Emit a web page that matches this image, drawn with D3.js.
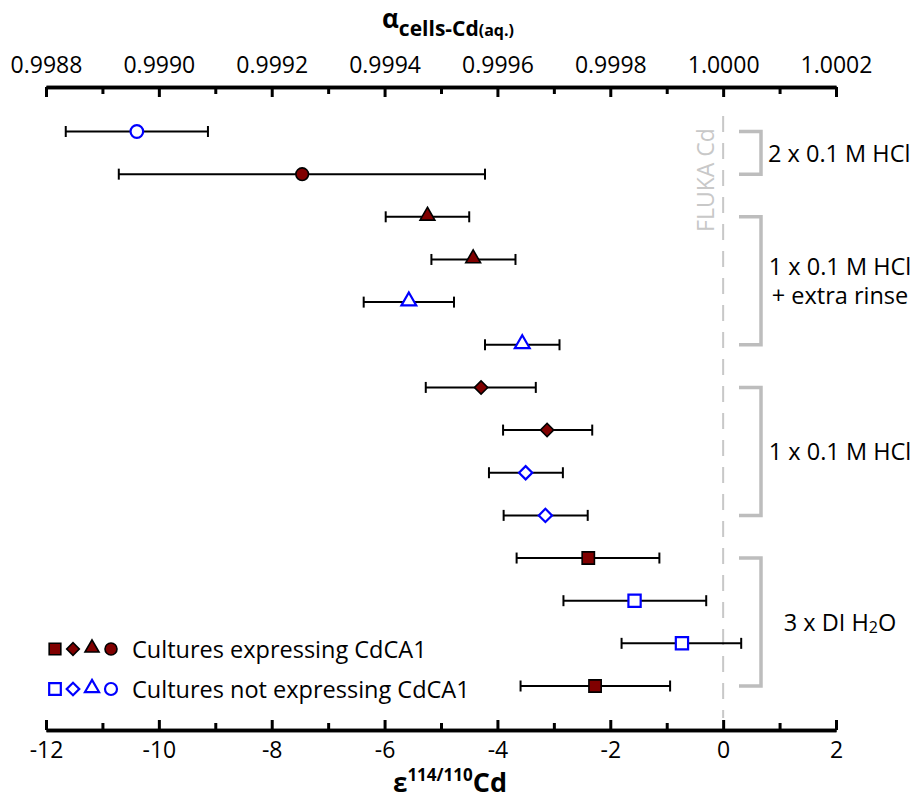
<!DOCTYPE html>
<html><head><meta charset="utf-8">
<script src="https://cdn.jsdelivr.net/npm/d3@7"></script>
<style>
html,body{margin:0;padding:0;background:#fff;}
svg{display:block;font-family:"Open Sans","Noto Sans",sans-serif;}
</style></head>
<body><svg id="chart" width="920" height="801"></svg>
<script>
// ---- data ----
const epsilon   = [-10.39, -7.46, -5.24, -4.43, -5.57, -3.56, -4.29, -3.12, -3.50, -3.15, -2.39, -1.57, -0.73, -2.27];
const errLow    = [-11.65, -10.71, -5.98, -5.17, -6.37, -4.22, -5.27, -3.90, -4.15, -3.89, -3.66, -2.83, -1.80, -3.59];
const errHigh   = [-9.13, -4.22, -4.50, -3.68, -4.77, -2.90, -3.32, -2.32, -2.84, -2.40, -1.13, -0.30, 0.32, -0.94];
const shapes    = ["circle","circle","triangle","triangle","triangle","triangle","diamond","diamond","diamond","diamond","square","square","square","square"];
const expressing= [false, true, true, true, false, false, true, true, false, false, true, false, false, true];
const epsTicks  = [-12,-10,-8,-6,-4,-2,0,2];
const alphaTicks= ["0.9988","0.9990","0.9992","0.9994","0.9996","0.9998","1.0000","1.0002"];
const groupLabels = [["2 x 0.1 M HCl"],["1 x 0.1 M HCl","+ extra rinse"],["1 x 0.1 M HCl"],["3 x DI H\u2082O"]];
const groupStart = [0, 2, 6, 10];
const groupEnd   = [1, 5, 9, 13];
const legendLabels = ["Cultures expressing CdCA1","Cultures not expressing CdCA1"];

const svg = d3.select("#chart");
const RED = "#800000", BLUE = "#0000ff", GRAY = "#bdbdbd";

const x = d3.scaleLinear().domain([-12, 2]).range([46, 836]);
const xa = d3.scaleLinear().domain([0.9988, 1.0002]).range([46, 836]);
const y = d3.scalePoint().domain(d3.range(epsilon.length)).range([131.5, 686]);
const yTop = 87, yBot = 730;

// reference dashed line at 0 (FLUKA Cd)
svg.append("line").attr("x1", x(0)).attr("x2", x(0)).attr("y1", 116).attr("y2", 718)
  .attr("stroke", "#c8c8c8").attr("stroke-width", 2).attr("stroke-dasharray", "16,11");
svg.append("text").attr("transform", `translate(${x(0)-18},180) rotate(-90)`)
  .attr("text-anchor", "middle").attr("dominant-baseline", "central")
  .attr("font-size", 23).attr("fill", "#c8c8c8").text("FLUKA Cd");

// axes
function styleAxis(g){
  g.select(".domain").attr("stroke", "#000").attr("stroke-width", 3.5);
  g.selectAll(".tick line").attr("stroke", "#000").attr("stroke-width", 3);
  g.selectAll(".tick text").attr("font-size", 23).attr("fill", "#000").attr("font-family", '"Open Sans",sans-serif');
}
const minorEps = d3.range(-11, 2, 2);
svg.append("g").attr("transform", `translate(0,${yBot})`)
  .call(d3.axisBottom(x).tickValues(minorEps).tickSize(-7).tickFormat("").tickSizeOuter(0))
  .call(styleAxis);
svg.append("g").attr("transform", `translate(0,${yBot})`)
  .call(d3.axisBottom(x).tickValues(epsTicks).tickSizeInner(-10).tickSizeOuter(0).tickPadding(12).tickFormat(d => d3.format("d")(d).replace("\u2212","-")))
  .call(styleAxis);
svg.append("g").attr("transform", `translate(0,${yTop})`)
  .call(d3.axisTop(xa).tickValues(d3.range(0, 7).map(i => 0.99890 + i*0.0002)).tickSize(-7).tickFormat("").tickSizeOuter(0))
  .call(styleAxis);
svg.append("g").attr("transform", `translate(0,${yTop})`)
  .call(d3.axisTop(xa).tickValues(alphaTicks.map(Number)).tickSizeInner(-10).tickSizeOuter(0).tickPadding(14).tickFormat((d, i) => alphaTicks[i]))
  .call(styleAxis);

// axis titles
const tt = svg.append("text").attr("x", 448).attr("y", 28).attr("text-anchor", "middle")
  .attr("font-weight", "bold").attr("fill", "#000");
tt.append("tspan").attr("font-size", 26).text("\u03b1");
tt.append("tspan").attr("font-size", 21).attr("dy", 8).text("cells-Cd");
tt.append("tspan").attr("font-size", 16).text("(aq.)");

const bt = svg.append("text").attr("x", 450).attr("y", 792).attr("text-anchor", "middle")
  .attr("font-weight", "bold").attr("fill", "#000");
bt.append("tspan").attr("font-size", 26).text("\u03b5");
bt.append("tspan").attr("font-size", 17).attr("dy", -11).text("114/110");
bt.append("tspan").attr("font-size", 27).attr("dy", 11).text("Cd");

// marker path generator
const symMap = {circle: d3.symbolCircle, square: d3.symbolSquare, triangle: d3.symbolTriangle, diamond: d3.symbolSquare};
const symSize = {circle: 125, square: 150, triangle: 95, diamond: 88};
function markerPath(shape, scale=1){
  return d3.symbol().type(symMap[shape]).size(symSize[shape]*scale*scale)();
}
function markerTransform(shape, cx, cy){
  if (shape === "triangle") return `translate(${cx},${cy-1})`;
  if (shape === "diamond") return `translate(${cx},${cy}) rotate(45)`;
  return `translate(${cx},${cy})`;
}
function styleMarker(sel, expr){
  sel.attr("fill", expr ? RED : "#fff").attr("stroke", expr ? "#000" : BLUE).attr("stroke-width", expr ? 1.6 : 2.2);
}

// error bars
const rows = d3.range(epsilon.length);
const eb = svg.append("g").selectAll("g").data(rows).join("g");
eb.append("line").attr("x1", i => x(errLow[i])).attr("x2", i => x(errHigh[i]))
  .attr("y1", i => y(i)).attr("y2", i => y(i)).attr("stroke", "#000").attr("stroke-width", 2);
eb.append("line").attr("x1", i => x(errLow[i])).attr("x2", i => x(errLow[i]))
  .attr("y1", i => y(i)-5.5).attr("y2", i => y(i)+5.5).attr("stroke", "#000").attr("stroke-width", 2);
eb.append("line").attr("x1", i => x(errHigh[i])).attr("x2", i => x(errHigh[i]))
  .attr("y1", i => y(i)-5.5).attr("y2", i => y(i)+5.5).attr("stroke", "#000").attr("stroke-width", 2);

// markers
svg.append("g").selectAll("path").data(rows).join("path")
  .attr("d", i => markerPath(shapes[i]))
  .attr("transform", i => markerTransform(shapes[i], x(epsilon[i]), y(i)))
  .each(function(i){ styleMarker(d3.select(this), expressing[i]); });

// group brackets
const bx = 761, barm = 22;
groupStart.forEach((s, gi) => {
  const y0 = y(s), y1 = y(groupEnd[gi]);
  svg.append("path").attr("d", `M${bx-barm},${y0}H${bx}V${y1}H${bx-barm}`)
    .attr("fill", "none").attr("stroke", GRAY).attr("stroke-width", 3.5);
  const lines = groupLabels[gi];
  const cy = (y0 + y1) / 2;
  const single = gi === 0;
  lines.forEach((t, li) => {
    const ty = cy + (li - (lines.length-1)/2) * 29;
    const tx = svg.append("text").attr("x", single ? 768 : 840).attr("y", ty)
      .attr("text-anchor", single ? "start" : "middle").attr("dominant-baseline", "central")
      .attr("font-size", 23.5).attr("fill", "#000");
    if (t.includes("\u2082")) {
      tx.append("tspan").text("3 x DI H");
      tx.append("tspan").attr("font-size", 16).attr("dy", 5).text("2");
      tx.append("tspan").attr("dy", -5).text("O");
    } else tx.text(t);
  });
});

// legend
const legShapes = ["square","diamond","triangle","circle"];
const legX = [55, 73, 92, 111];
const legY = [649, 689];
[true, false].forEach((expr, li) => {
  legShapes.forEach((sh, k) => {
    svg.append("path").attr("d", markerPath(sh, 0.95))
      .attr("transform", markerTransform(sh, legX[k], legY[li]))
      .call(s => styleMarker(s, expr));
  });
  svg.append("text").attr("x", 132).attr("y", legY[li]).attr("dominant-baseline", "central")
    .attr("font-size", 23.5).attr("fill", "#000").text(legendLabels[li]);
});
</script></body></html>
